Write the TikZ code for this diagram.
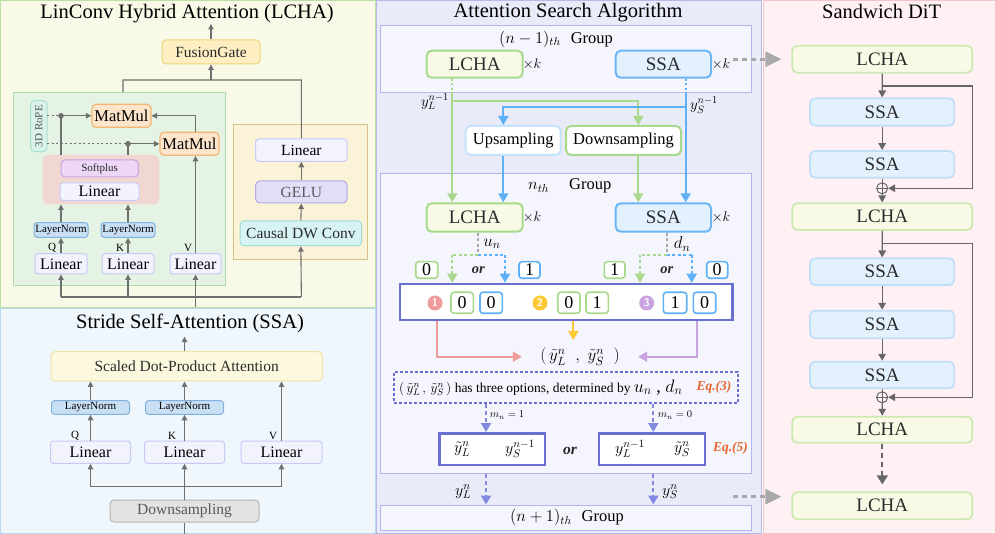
\documentclass[tikz,border=0pt]{standalone}
\usepackage{fix-cm}
\usepackage{fontspec}
\setmainfont{Liberation Serif}
\usetikzlibrary{arrows.meta,calc}
\definecolor{panYF}{HTML}{F9F9E7}\definecolor{panYD}{HTML}{B9DFA4}
\definecolor{panBF}{HTML}{EFF6FC}\definecolor{panBD}{HTML}{B7DAF2}
\definecolor{panMF}{HTML}{E9EBF8}\definecolor{panMD}{HTML}{B6BAEB}
\definecolor{panRF}{HTML}{FFF1F3}\definecolor{panRD}{HTML}{F5C2C8}
\definecolor{grpF}{HTML}{F5F6FD}\definecolor{grpD}{HTML}{B3B7EE}
\definecolor{gboxF}{HTML}{E5F3E4}\definecolor{gboxD}{HTML}{ABD9A8}
\definecolor{fgF}{HTML}{FDEFC2}\definecolor{fgD}{HTML}{EFD27C}
\definecolor{mmF}{HTML}{FDE5CB}\definecolor{mmD}{HTML}{F1B774}
\definecolor{ropeF}{HTML}{D9F3EA}\definecolor{ropeD}{HTML}{A9E0C9}
\definecolor{pkF}{HTML}{F0D7D1}
\definecolor{spF}{HTML}{EDD6F6}\definecolor{spD}{HTML}{C9A4E4}
\definecolor{linF}{HTML}{F3F3FE}\definecolor{linD}{HTML}{C6CBF6}
\definecolor{lnF}{HTML}{C8DFF4}\definecolor{lnD}{HTML}{83B1DD}
\definecolor{cbF}{HTML}{FBF3D7}\definecolor{cbD}{HTML}{D9C084}
\definecolor{geF}{HTML}{E3DEF7}\definecolor{geD}{HTML}{B4AAE4}
\definecolor{cvF}{HTML}{D7F3F3}\definecolor{cvD}{HTML}{A0DBDB}
\definecolor{sdF}{HTML}{FCF9DE}\definecolor{sdD}{HTML}{EEE4A4}
\definecolor{dsF}{HTML}{E3E3E3}\definecolor{dsD}{HTML}{B4B4B4}
\definecolor{lchF}{HTML}{F8FAE6}\definecolor{lchD}{HTML}{A8D98B}
\definecolor{ssaF}{HTML}{E3F0FD}\definecolor{ssaD}{HTML}{6CB6F5}
\definecolor{lchRD}{HTML}{CDE8B0}\definecolor{ssaRD}{HTML}{C0DEF8}
\definecolor{gln}{HTML}{A9D98C}\definecolor{bln}{HTML}{5EB1F6}
\definecolor{upD}{HTML}{C5E3FC}
\definecolor{ind}{HTML}{6A70D2}\definecolor{indL}{HTML}{8189E0}
\definecolor{pinkA}{HTML}{F19C9C}\definecolor{yelA}{HTML}{FFC933}\definecolor{purA}{HTML}{C9A2E2}
\definecolor{eqC}{HTML}{E5662F}
\definecolor{gdash}{HTML}{A9A9A9}
\definecolor{lgray}{HTML}{6F6F6F}
\definecolor{txt}{HTML}{2B2B2B}
\newcommand\setfs[1]{\fontsize{#1}{#1}\selectfont}
\newcommand\bx[7]{\node[#1,minimum width={(#4)-(#2)},minimum height={(#5)-(#3)}] (#6) at ({((#2)+(#4))/2},{((#3)+(#5))/2}) {#7};}
\begin{document}
\begin{tikzpicture}[x=1pt,y=-1pt,
  ST/.tip={Triangle[length=5.5pt,width=5.5pt]},
  BT/.tip={Triangle[length=9pt,width=10pt]},
  RT/.tip={Triangle[length=7pt,width=7.5pt]},
  ln/.style={draw=lgray,line width=1.1pt},
  arr/.style={ln,-ST},
  ttl/.style={anchor=base,font=\setfs{20.5},text=black},
  bb0/.style={rounded corners=3pt,line width=1pt,inner sep=0pt,text=txt},
  lin/.style={bb0,fill=linF,draw=linD,font=\setfs{16},text=black},
  lnorm/.style={bb0,fill=lnF,draw=lnD,font=\setfs{11},text=black},
  fgate/.style={bb0,rounded corners=4pt,fill=fgF,draw=fgD,font=\setfs{15.5}},
  mmb/.style={bb0,rounded corners=4pt,fill=mmF,draw=mmD,line width=1.2pt,font=\setfs{16.5},text=black},
  rope/.style={bb0,rounded corners=4pt,fill=ropeF,draw=ropeD,font=\setfs{11},text=txt!80},
  pkbox/.style={rounded corners=5pt,fill=pkF,inner sep=0pt},
  spl/.style={bb0,rounded corners=4pt,fill=spF,draw=spD,font=\setfs{11}},
  gbox/.style={fill=gboxF,draw=gboxD,line width=1pt,inner sep=0pt},
  cbx/.style={fill=cbF,draw=cbD,line width=1pt,inner sep=0pt},
  gel/.style={bb0,rounded corners=4pt,fill=geF,draw=geD,font=\setfs{15.5},text=black!65},
  cvb/.style={bb0,rounded corners=4pt,fill=cvF,draw=cvD,font=\setfs{15.5}},
  sdpa/.style={bb0,rounded corners=4pt,fill=sdF,draw=sdD,font=\setfs{15.5}},
  dsm/.style={bb0,rounded corners=4pt,fill=dsF,draw=dsD,font=\setfs{15.5},text=black!65},
  qkv/.style={font=\setfs{11},text=black,inner sep=0pt},
  grp/.style={fill=grpF,draw=grpD,line width=1pt,inner sep=0pt},
  lchb/.style={bb0,rounded corners=5pt,fill=lchF,draw=lchD,line width=2pt,font=\setfs{19}},
  ssab/.style={bb0,rounded corners=5pt,fill=ssaF,draw=ssaD,line width=2pt,font=\setfs{19}},
  upb/.style={bb0,rounded corners=5pt,fill=white,draw=upD,line width=2pt,font=\setfs{16.5},text=black},
  dnb/.style={bb0,rounded corners=5pt,fill=white,draw=gln,line width=2pt,font=\setfs{16.5},text=black},
  xk/.style={font=\setfs{14},inner sep=0pt},
  gl/.style={draw=gln,line width=1.8pt},
  bl/.style={draw=bln,line width=1.8pt},
  dots/.style={dash pattern=on 2pt off 2.5pt},
  dsh/.style={dash pattern=on 3pt off 2.5pt},
  mlab/.style={font=\setfs{16},inner sep=0pt},
  dgG/.style={bb0,fill=white,draw=gln,line width=1.6pt,font=\setfs{18},text=black},
  dgB/.style={bb0,fill=white,draw=bln,line width=1.6pt,font=\setfs{18},text=black},
  orl/.style={font=\setfs{14.5}\bfseries\itshape,text=black!85,inner sep=0pt},
  bigb/.style={fill=white,draw=ind,line width=2.5pt,inner sep=0pt},
  cnum/.style={circle,inner sep=0pt,minimum size=15pt,text=white,font=\setfs{11}\sffamily\bfseries},
  il/.style={draw=indL,line width=2pt,dash pattern=on 4pt off 3pt},
  eqs/.style={font=\setfs{13.5}\bfseries\itshape,text=eqC,inner sep=0pt},
  gda/.style={draw=gdash,line width=3pt,dash pattern=on 5pt off 4pt,-{Triangle[length=16pt,width=15pt]},shorten >=10pt},
  lchR/.style={bb0,rounded corners=5pt,fill=lchF,draw=lchRD,line width=1.8pt,font=\setfs{19}},
  ssaR/.style={bb0,rounded corners=5pt,fill=ssaF,draw=ssaRD,line width=1.8pt,font=\setfs{19}},
  rln/.style={draw=black!60,line width=1.3pt},
  rarr/.style={rln,-RT},
  oplus/.style={circle,draw=black!60,line width=1pt,minimum size=11pt,inner sep=0pt}
]
\useasboundingbox (0,0) rectangle (996,534);
% ---------- panels ----------
\draw[fill=panYF,draw=panYD,line width=1pt] (0.5,0.5) rectangle (375,307.5);
\draw[fill=panBF,draw=panBD,line width=1pt] (0.5,309) rectangle (375,533.5);
\draw[fill=panMF,draw=panMD,line width=1pt] (376.5,0.5) rectangle (761.5,533.5);
\draw[fill=panRF,draw=panRD,line width=1pt] (763,0.5) rectangle (995.5,533.5);
\node[ttl] (tL) at (187,18.3) {LinConv Hybrid Attention (LCHA)};
\node[ttl] (tS) at (190,328.3) {Stride Self-Attention (SSA)};
\node[ttl] (tM) at (568,17.5) {Attention Search Algorithm};
\node[ttl] (tR) at (881.7,18.3) {Sandwich DiT};
% ---------- LCHA panel ----------
\bx{fgate}{162}{40}{260}{64}{fg}{FusionGate}
\coordinate (lchaout) at (211,24);
\draw[arr] (fg.north) -- (lchaout);
\bx{gbox}{13}{92.6}{225.7}{286}{gb}{}
\bx{cbx}{233.3}{125}{367.7}{260}{cb}{}
\bx{lin,font=\setfs{15.5}}{255.7}{139}{347}{161.3}{linC}{Linear}
\bx{gel}{255.7}{181}{347}{203}{ge}{GELU}
\bx{cvb}{240}{221}{361.7}{245.7}{cv}{Causal DW Conv}
\draw[arr] (cv.north) -- (ge.south);
\draw[arr] (ge.north) -- (linC.south);
\coordinate (jL) at (123,80);
\coordinate (jM) at (211,80);
\coordinate (jR) at (301.35,80);
\draw[ln] (jL |- gb.north) -- (jL) -- (jR) -- (linC.north);
\draw[arr] (jM) -- (fg.south);
\node[rope,rotate=90,minimum width=51pt,minimum height=16.5pt] (rp) at (38.8,126.2) {3D RoPE};
\path (rp.center) ++(8.3,0) coordinate (rpE);
\bx{mmb}{92}{104.3}{151}{127.3}{mm1}{MatMul}
\bx{mmb}{160}{132.3}{219}{155.3}{mm2}{MatMul}
\coordinate (d1) at (61,115.8);
\coordinate (d2) at (128,143.8);
\coordinate (vx) at (195.5,0);
\draw[lgray,line width=1.1pt,dots] (rpE |- d1) -- (d1);
\draw[lgray,line width=1.1pt,dots] (rpE |- d2) -- (d2);
\draw[arr] (d1) -- (mm1.west);
\draw[arr] (d2) -- (mm2.west);
\draw[arr] (mm2.north -| vx) |- (mm1.east);
\bx{pkbox}{42.3}{155}{159.3}{204.3}{pk}{}
\bx{spl}{61}{160}{138.3}{177}{sp}{Softplus}
\bx{lin}{60}{183}{139}{200.5}{linP}{Linear}
\draw[ln] (d1) -- (d1 |- pk.north);
\draw[ln] (d2) -- (d2 |- pk.north);
\fill[lgray] (d1) circle[radius=2.8pt];
\fill[lgray] (d2) circle[radius=2.8pt];
\bx{lnorm}{34}{222.7}{88}{237.3}{lnQ}{LayerNorm}
\bx{lnorm}{101}{222.7}{155}{237.3}{lnK}{LayerNorm}
\draw[arr] (lnQ.north) -- (lnQ.north |- pk.south);
\draw[arr] (lnK.north) -- (lnK.north |- pk.south);
\bx{lin}{35}{253.7}{87}{274}{linQ}{Linear}
\bx{lin}{102}{253.7}{154}{274}{linK}{Linear}
\bx{lin}{170}{253.7}{221}{274}{linV}{Linear}
\draw[arr] (linQ.north) -- (lnQ.south);
\draw[arr] (linK.north) -- (lnK.south);
\draw[arr] (linV.north) -- (vx |- mm2.south);
\node[qkv] (lq) at (52,248) {Q};
\node[qkv] (lk) at (120,248) {K};
\node[qkv] (lv) at (188,248) {V};
\coordinate (bq) at (61,297);
\coordinate (br) at (301.35,297);
\coordinate (inA) at (195.5,307.5);
\draw[ln] (bq) -- (br);
\draw[ln] (inA) -- (inA |- bq);
\draw[arr] (bq) -- (linQ.south);
\draw[arr] (linK.south |- bq) -- (linK.south);
\draw[arr] (linV.south |- bq) -- (linV.south);
\draw[arr] (br) -- (cv.south);
% ---------- SSA panel ----------
\bx{sdpa}{51}{351.7}{322.3}{381}{sd}{Scaled Dot-Product Attention}
\coordinate (ssaout) at (184.5,336.7);
\draw[arr] (sd.north -| ssaout) -- (ssaout);
\bx{lnorm}{51.5}{400.7}{129.5}{414.3}{lnQs}{LayerNorm}
\bx{lnorm}{145.5}{400.7}{223.5}{414.3}{lnKs}{LayerNorm}
\bx{lin}{50.5}{441}{130.5}{463.3}{linQs}{Linear}
\bx{lin}{144.5}{441}{224.5}{463.3}{linKs}{Linear}
\bx{lin}{241}{441}{322}{463.3}{linVs}{Linear}
\draw[arr] (linQs.north) -- (lnQs.south);
\draw[arr] (linKs.north) -- (lnKs.south);
\draw[arr] (lnQs.north) -- (lnQs.north |- sd.south);
\draw[arr] (lnKs.north) -- (lnKs.north |- sd.south);
\draw[arr] (linVs.north) -- (linVs.north |- sd.south);
\node[qkv] (lqs) at (75,436) {Q};
\node[qkv] (lks) at (172,436) {K};
\node[qkv] (lvs) at (273,436) {V};
\bx{dsm}{110}{500}{259}{522}{ds}{Downsampling}
\coordinate (sb1) at (90.5,486.7);
\coordinate (sb2) at (281.5,486.7);
\draw[ln] (sb1) -- (sb2);
\draw[arr] (sb1) -- (linQs.south);
\draw[arr] (sb2) -- (linVs.south);
\draw[arr] (ds.north) -- (linKs.south);
\coordinate (ssain) at (184.5,533.5);
\draw[ln] (ds.south) -- (ssain);
% ---------- middle panel ----------
\bx{grp}{380.7}{26}{751.7}{92.7}{g1}{}
\bx{grp}{380.7}{174}{751.7}{473.3}{g2}{}
\bx{grp}{380.7}{505}{751.7}{530}{g3}{}
\node[anchor=base,font=\setfs{16.5}] (g1l) at (556,43.3) {$(n-1)_{th}$\hspace{10pt}Group};
\node[anchor=base,font=\setfs{16.5}] (g2l) at (569.7,190) {$n_{th}$\hspace{20pt}Group};
\node[anchor=base,font=\setfs{16.5}] (g3l) at (567,521.7) {$(n+1)_{th}$\hspace{10pt}Group};
\bx{lchb}{426.7}{50.7}{522.7}{77.7}{lc1}{LCHA}
\bx{ssab}{615.7}{50.7}{711}{77.7}{ss1}{SSA}
\node[xk] (xk1) at (532,64.2) {$\times k$};
\node[xk] (xk2) at (721,64.2) {$\times k$};
\bx{upb}{465.7}{126}{560.7}{155}{up}{Upsampling}
\bx{dnb}{566}{126}{681}{155}{dn}{Downsampling}
\bx{lchb}{426.7}{203.3}{522.7}{231.7}{lc2}{LCHA}
\bx{ssab}{615.7}{203.3}{711}{231.7}{ss2}{SSA}
\node[xk] (xk3) at (532,217.5) {$\times k$};
\node[xk] (xk4) at (721,217.5) {$\times k$};
\coordinate (gx) at (452.3,0);
\coordinate (bx) at (685.7,0);
\coordinate (ux) at (503.3,0);
\coordinate (dx) at (638.3,0);
\coordinate (gbr) at (452.3,100.7);
\coordinate (bbr) at (685.7,106.7);
\draw[gl,dots] (lc1.south -| gx) -- (gx |- g1.south);
\draw[bl,dots] (ss1.south -| bx) -- (bx |- g1.south);
\draw[gl,-BT] (gbr) -| (dx |- dn.north);
\draw[bl,-BT] (bbr) -| (ux |- up.north);
\draw[gl,-BT] (gx |- g1.south) -- (gx |- lc2.north);
\draw[bl,-BT] (bx |- g1.south) -- (bx |- ss2.north);
\draw[bl,-BT] (ux |- up.south) -- (ux |- lc2.north);
\draw[gl,-BT] (dx |- dn.south) -- (dx |- ss2.north);
\node[mlab,font=\setfs{15}] (yl1) at (435,101.7) {$y_L^{n-1}$};
\node[mlab,font=\setfs{15}] (ys1) at (704,105) {$y_S^{n-1}$};
% u_n / d_n selection
\bx{bigb}{400}{284}{732.3}{320}{bb}{}
\coordinate (uj) at (478.3,255);
\coordinate (ujg) at (452.3,255);
\coordinate (ujb) at (505,255);
\coordinate (dj) at (666.7,255);
\coordinate (djg) at (640,255);
\coordinate (djb) at (691.7,255);
\draw[draw=gdash,line width=2pt,dsh] (lc2.south -| uj) -- (uj);
\draw[draw=gdash,line width=2pt,dsh] (ss2.south -| dj) -- (dj);
\node[mlab,font=\setfs{17}] (un) at (492,244) {$u_n$};
\node[mlab,font=\setfs{17}] (dnl) at (682,244) {$d_n$};
\draw[gl,dsh] (uj) -- (ujg);
\draw[bl,dsh] (uj) -- (ujb);
\draw[gl,dsh] (dj) -- (djg);
\draw[bl,dsh] (dj) -- (djb);
\draw[gl,dsh,-BT] (ujg) -- (ujg |- bb.north);
\draw[bl,dsh,-BT] (ujb) -- (ujb |- bb.north);
\draw[gl,dsh,-BT] (djg) -- (djg |- bb.north);
\draw[bl,dsh,-BT] (djb) -- (djb |- bb.north);
\bx{dgG}{415.7}{261.7}{437.7}{278.3}{q0L}{0}
\bx{dgB}{519}{261.7}{540}{278.3}{q1L}{1}
\bx{dgG}{604.3}{261.7}{625}{278.3}{q1R}{1}
\bx{dgB}{706.7}{261.7}{727.7}{278.3}{q0R}{0}
\node[orl] (or1) at (478.3,270) {or};
\node[orl] (or2) at (666.7,270) {or};
\node[cnum,fill=pinkA] (c1) at (435,303) {1};
\bx{dgG}{451}{292.3}{473.3}{313.3}{o1a}{0}
\bx{dgB}{480}{292.3}{502.3}{313.3}{o1b}{0}
\node[cnum,fill=yelA] (c2) at (540,303) {2};
\bx{dgG}{557.7}{292.3}{580}{313.3}{o2a}{0}
\bx{dgG}{586}{292.3}{608.3}{313.3}{o2b}{1}
\node[cnum,fill=purA] (c3) at (646.7,303) {3};
\bx{dgB}{663.3}{292.3}{686.7}{313.3}{o3a}{1}
\bx{dgB}{693.3}{292.3}{715.7}{313.3}{o3b}{0}
\node[font=\setfs{17},minimum width=116pt,inner sep=0pt] (res) at (580,356.7) {$(\,\tilde{y}_L^n\;\;,\;\tilde{y}_S^n\;\;)$\hspace{8pt}};
\coordinate (pkx) at (436.7,0);
\coordinate (pux) at (696.7,0);
\coordinate (yx) at (573.3,0);
\coordinate (yend) at (573.3,340);
\draw[draw=pinkA,line width=2pt,-BT] (pkx |- bb.south) |- (res.west);
\draw[draw=purA,line width=2pt,-BT] (pux |- bb.south) |- (res.east);
\draw[draw=yelA,line width=2pt,-BT] (yx |- bb.south) -- (yend);
% dotted explanation box
\bx{draw=ind,line width=2pt,dash pattern=on 2.5pt off 2.5pt,inner sep=0pt}{394.3}{371.7}{737.7}{403.3}{db}{}
\node[font=\setfs{13.5},anchor=west,inner sep=0pt] (dbt) at (399,387.5) {$(\,\tilde y_L^n\,,\,\tilde y_S^n\,)$ has three options, determined by {\setfs{18}$u_n$ , $d_n$}};
\node[eqs] (eq3) at (714,387) {Eq.(3)};
\bx{bigb}{439.3}{433.3}{545}{465}{sb1}{}
\bx{bigb}{599}{433.3}{705}{465}{sb2}{}
\node[mlab] (s1a) at (462,449) {$\tilde y_L^n$};
\node[mlab] (s1b) at (520,449) {$y_S^{n-1}$};
\node[mlab] (s2a) at (630,449) {$y_L^{n-1}$};
\node[mlab] (s2b) at (682,449) {$\tilde y_S^n$};
\node[orl,font=\setfs{15.5}\bfseries\itshape] (or3) at (570,451) {or};
\node[eqs] (eq5) at (730.5,448) {Eq.(5)};
\coordinate (mx1) at (486,0);
\coordinate (mx2) at (653.3,0);
\draw[il,-BT] (mx1 |- db.south) -- (mx1 |- sb1.north);
\draw[il,-BT] (mx2 |- db.south) -- (mx2 |- sb2.north);
\node[font=\setfs{10.5},inner sep=0pt] (m1) at (507,415) {$m_n=1$};
\node[font=\setfs{10.5},inner sep=0pt] (m0) at (675,415) {$m_n=0$};
\draw[il,-BT] (mx1 |- g2.south) -- (mx1 |- g3.north);
\draw[il,-BT] (mx2 |- g2.south) -- (mx2 |- g3.north);
\node[mlab] (ylo) at (463,491.7) {$y_L^n$};
\node[mlab] (yso) at (670,491.7) {$y_S^n$};
% ---------- right panel ----------
\bx{lchR}{792.3}{45.7}{972.3}{72.7}{lcR1}{LCHA}
\bx{ssaR}{810}{98.3}{954.3}{125.7}{ssR1}{SSA}
\bx{ssaR}{810}{151}{954.3}{177.7}{ssR2}{SSA}
\node[oplus] (op1) at (882.15,188.3) {};
\bx{lchR}{792.3}{203.3}{972.3}{230}{lcR2}{LCHA}
\bx{ssaR}{810}{258.3}{954.3}{285}{ssR3}{SSA}
\bx{ssaR}{810}{310.7}{954.3}{338.3}{ssR4}{SSA}
\bx{ssaR}{810}{361.7}{954.3}{388.3}{ssR5}{SSA}
\node[oplus] (op2) at (882.15,397.3) {};
\bx{lchR}{792.3}{416.7}{972.3}{442.7}{lcR3}{LCHA}
\bx{lchR}{792.3}{492.3}{972.3}{519.3}{lcR4}{LCHA}
\draw[black!60,line width=1pt] (op1.north) -- (op1.south) (op1.west) -- (op1.east);
\draw[black!60,line width=1pt] (op2.north) -- (op2.south) (op2.west) -- (op2.east);
\coordinate (rx) at (972.3,0);
\coordinate (br1) at (882.15,86);
\coordinate (br2) at (882.15,243.3);
\draw[rarr] (lcR1.south) -- (ssR1.north);
\draw[rarr] (ssR1.south) -- (ssR2.north);
\draw[rln] (ssR2.south) -- (op1.north);
\draw[rarr] (op1.south) -- (lcR2.north);
\draw[rarr] (br1) -| (rx |- op1) -- (op1.east);
\draw[rarr] (lcR2.south) -- (ssR3.north);
\draw[rarr] (ssR3.south) -- (ssR4.north);
\draw[rarr] (ssR4.south) -- (ssR5.north);
\draw[rln] (ssR5.south) -- (op2.north);
\draw[rarr] (op2.south) -- (lcR3.north);
\draw[rarr] (br2) -| (rx |- op2) -- (op2.east);
\draw[draw=black!60,line width=1.8pt,dash pattern=on 5pt off 4pt,-{Triangle[length=9pt,width=11pt]},shorten >=7pt] (lcR3.south) -- (lcR4.north);
% gray dashed links
\coordinate (gs1) at (733,59.2);
\coordinate (gs2) at (733,496.7);
\draw[gda] (gs1) -- (lcR1.west);
\draw[gda] (gs2) -- (gs2 -| lcR4.west);
\end{tikzpicture}
\end{document}
